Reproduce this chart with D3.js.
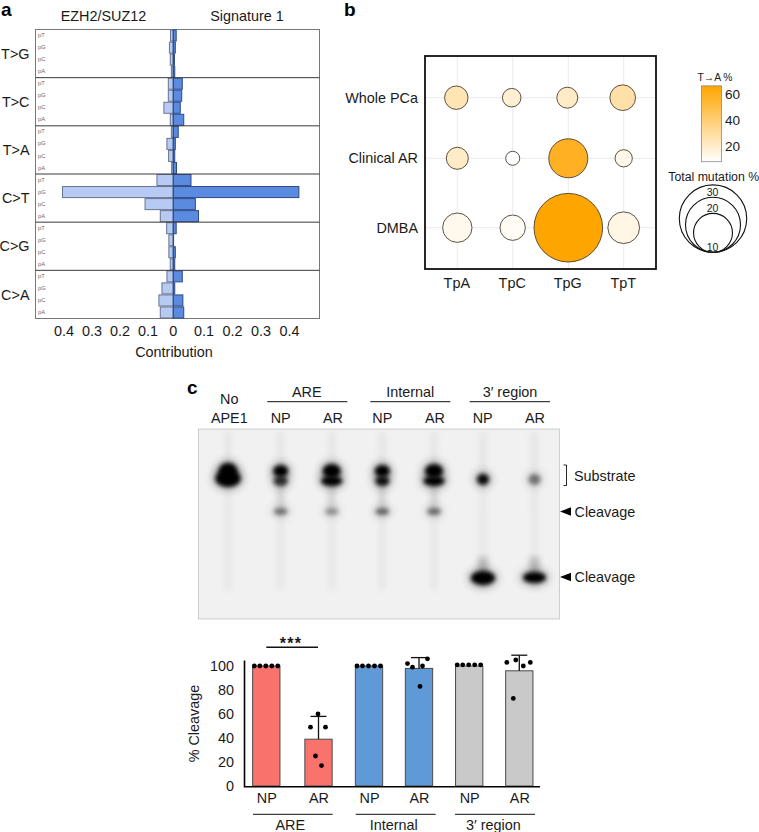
<!DOCTYPE html>
<html><head><meta charset="utf-8">
<script src="https://cdn.jsdelivr.net/npm/d3@7"></script>
<style>html,body{margin:0;padding:0;background:#fff}svg{display:block}text{font-family:"Liberation Sans",Arial,sans-serif;fill:#1a1a1a}</style>
</head><body><svg id="c" width="759" height="832"></svg>
<script>
// ---------- Panel a data
const mutationTypes = ["T>G","T>C","T>A","C>T","C>G","C>A"];
const contexts = ["pT","pG","pC","pA"];
const ezh2Values = [0.010,0.014,0.011,0.007, 0.018,0.018,0.034,0.011, 0.007,0.023,0.017,0.006, 0.059,0.400,0.102,0.047, 0.024,0.016,0.016,0.011, 0.023,0.041,0.052,0.047];
const sig1Values = [0.010,0.007,0.004,0.005, 0.031,0.029,0.024,0.036, 0.017,0.007,0.005,0.011, 0.061,0.433,0.076,0.087, 0.010,0.001,0.007,0.005, 0.031,0.005,0.033,0.036];
const contributionTicks = [0.1,0.2,0.3,0.4];
// ---------- Panel b data
const motifs = ["TpA","TpC","TpG","TpT"];
const cohorts = ["Whole PCa","Clinical AR","DMBA"];
const totalMutation = [3.5,2.2,2.8,4.2, 3.1,1.25,9.7,1.9, 5.5,4.1,30,6.4];
const tToA = [25,18,21,28, 21,8,58,13, 12,10,66,14];
const colorTicks = [20,40,60];
const sizeLegend = [30,20,10];
// ---------- Panel c gel data
const gelLanes = ["No APE1","ARE NP","ARE AR","Internal NP","Internal AR","3′ NP","3′ AR"];
const gelUpper  = [1,1,1,1,1,0,0];
const gelLower  = [1,0.75,1,0.9,1,0.95,0.45];
const gelMid    = [0,0.45,0.32,0.5,0.48,0,0];
const gelBottom = [0,0,0,0,0,1,1];
// ---------- Panel c bars data
const barKeys = ["ARE NP","ARE AR","Internal NP","Internal AR","3′ NP","3′ AR"];
const barLabels = ["NP","AR","NP","AR","NP","AR"];
const barMeans = [100,39,100,98,100,96];
const barErrTop = [null,58,null,107,null,109];
const barDots = [
 [100,100,100,100,100],[60,49,49,25,17],[100,100,100,100,100],[102,99,100,106,83],[101,101,101,101,101],[103,105,100,103,73]];
const dotJitter = [
 [-12,-6.5,-0.5,5.5,11.5],[-0.5,-8,7,-3,3],[-12,-6.5,-0.5,5.5,11.5],[-11.5,-6.5,3.5,8.5,1],[-12,-6.5,-0.5,5.5,11.5],[-12.5,-3.5,4,11,-6]];
const barColors = ["#f9736c","#f9736c","#5f9ad6","#5f9ad6","#c9c9c9","#c9c9c9"];
const yTicks = [0,20,40,60,80,100];

const svg = d3.select("#c");
const FS = 14.4;
const txt = (g,x,y,s,anchor="middle",size=FS,extra={})=>{
  const t=g.append("text").attr("x",x).attr("y",y).attr("dy","0.36em").attr("text-anchor",anchor).attr("font-size",size).text(s);
  Object.entries(extra).forEach(([k,v])=>t.attr(k,v)); return t;};

// panel letters
[["a",1,9],["b",344,9],["c",187,387]].forEach(([s,x,y])=>txt(svg,x,y,s,"start",19,{"font-weight":"bold"}).style("fill","#000"));

// ---------- Panel a
(function(){
  const g=svg.append("g");
  const cx=173.3, L=35.5, R=319.5;
  const leftW=d3.scaleLinear([0,1],[0,277]), rightW=d3.scaleLinear([0,1],[0,290]);
  const rowY=d3.scaleBand(mutationTypes,[29.5,318.5]);
  const subY=d3.scaleBand(contexts,[0,rowY.bandwidth()]);
  txt(g,103.5,15.5,"EZH2/SUZ12"); txt(g,247,15.5,"Signature 1");
  g.append("rect").attr("x",L).attr("y",29.5).attr("width",R-L).attr("height",289).attr("fill","#fff").attr("stroke","#777").attr("stroke-width",1);
  mutationTypes.forEach((m,i)=>{
    const y0=rowY(m);
    txt(g,29.5,y0+rowY.bandwidth()/2+(m==="T>G"?0.5:0),m,"end");
    contexts.forEach((c,j)=>{
      txt(g,38,y0+subY(c)+5.5,c,"start",5.8).style("fill","#666");
      const idx=i*4+j;
      g.append("rect").attr("x",cx-leftW(ezh2Values[idx])).attr("y",y0+subY(c)+0.5).attr("width",leftW(ezh2Values[idx])).attr("height",subY.bandwidth()-1)
        .attr("fill","#b6caf3").attr("stroke","#68748f").attr("stroke-width",1);
      g.append("rect").attr("x",cx).attr("y",y0+subY(c)+0.5).attr("width",rightW(sig1Values[idx])).attr("height",subY.bandwidth()-1)
        .attr("fill","#5a8be0").attr("stroke","#2d4a86").attr("stroke-width",1);
    });
  });
  g.append("line").attr("x1",cx).attr("x2",cx).attr("y1",29.5).attr("y2",318.5).attr("stroke","#3c4a66").attr("stroke-width",0.8);
  mutationTypes.slice(1).forEach(m=>g.append("line").attr("x1",L).attr("x2",R).attr("y1",rowY(m)).attr("y2",rowY(m)).attr("stroke","#3a3a3a").attr("stroke-width",1));
  const tl=d3.scaleLinear([0.1,0.4],[148,64]), tr=d3.scaleLinear([0.1,0.4],[204,289.5]);
  contributionTicks.forEach(t=>{ txt(g,tl(t),331,t.toFixed(1)); txt(g,tr(t),331,t.toFixed(1)); });
  txt(g,cx,331,"0");
  txt(g,174,351.5,"Contribution");
})();

// ---------- Panel b
(function(){
  const g=svg.append("g");
  const x=d3.scaleOrdinal(motifs,[457.3,512.7,568.3,623.7]);
  const y=d3.scaleOrdinal(cohorts,[97.7,158.3,227.7]);
  const r=d3.scaleSqrt([0,30],[0,34.3]);
  const color=d3.scaleLinear([8,66],["#ffffff","#ffa500"]).clamp(true);
  motifs.forEach(m=>g.append("line").attr("x1",x(m)).attr("x2",x(m)).attr("y1",57).attr("y2",268).attr("stroke","#ebebeb"));
  cohorts.forEach(c=>g.append("line").attr("x1",426).attr("x2",655).attr("y1",y(c)).attr("y2",y(c)).attr("stroke","#ebebeb"));
  cohorts.forEach((c,i)=>{
    txt(g,418,y(c),c,"end");
    motifs.forEach((m,j)=>{
      const k=i*4+j;
      g.append("circle").attr("cx",x(m)-(i===0?1:0)).attr("cy",y(c)).attr("r",r(totalMutation[k])).attr("fill",color(tToA[k])).attr("stroke","#4a4030").attr("stroke-width",0.9);
    });
  });
  g.append("rect").attr("x",425).attr("y",56).attr("width",231).attr("height",213).attr("fill","none").attr("stroke","#111").attr("stroke-width",1.8);
  motifs.forEach(m=>txt(g,x(m)-0.5,282.5,m));
  // colour bar
  const cbY=d3.scaleLinear([20,60],[146,93.7]);
  const grad=svg.append("defs").append("linearGradient").attr("id","cb").attr("x1",0).attr("x2",0).attr("y1",1).attr("y2",0);
  grad.append("stop").attr("offset",0).attr("stop-color",color(8));
  grad.append("stop").attr("offset",1).attr("stop-color",color(66));
  g.append("rect").attr("x",701.5).attr("y",cbY(66)).attr("width",20).attr("height",cbY(8)-cbY(66)).attr("fill","url(#cb)").attr("stroke","#8a8a8a").attr("stroke-width",0.8);
  colorTicks.forEach(t=>txt(g,725,cbY(t),t,"start",13.6));
  txt(g,715,77,"T→A %","middle",11.2,{"font-family":"DejaVu Sans, Liberation Sans"}).attr("textLength",35).attr("lengthAdjust","spacingAndGlyphs");
  txt(g,713.7,177,"Total mutation %","middle",12.3);
  const rl=d3.scaleSqrt([0,30],[0,33.7]);
  sizeLegend.forEach(v=>{
    g.append("circle").attr("cx",713).attr("cy",252.3-rl(v)).attr("r",rl(v)).attr("fill","none").attr("stroke","#111").attr("stroke-width",1.1);
  });
  txt(g,712.5,192,"30","middle",10.5); txt(g,712.5,208,"20","middle",10.5); txt(g,712.5,247.5,"10","middle",10.5);
})();

// ---------- Panel c gel
(function(){
  const g=svg.append("g");
  const defs=svg.append("defs");
  defs.append("filter").attr("id","bl").attr("x","-100%").attr("y","-100%").attr("width","300%").attr("height","300%").append("feGaussianBlur").attr("stdDeviation",2.2);
  defs.append("filter").attr("id","halo").attr("x","-150%").attr("y","-150%").attr("width","400%").attr("height","400%").append("feGaussianBlur").attr("stdDeviation",4);
  defs.append("filter").attr("id","bl2").attr("x","-300%").attr("y","-20%").attr("width","700%").attr("height","140%").append("feGaussianBlur").attr("stdDeviation",3);
  defs.append("clipPath").attr("id","gelclip").append("rect").attr("x",198.5).attr("y",429).attr("width",361).attr("height",190);
  g.append("rect").attr("x",198.5).attr("y",429).attr("width",361).attr("height",190).attr("fill","#f1f1f1").attr("stroke","#c4c4c4").attr("stroke-width",0.8);
  const laneX=d3.scaleOrdinal(gelLanes,[228,280.7,331.7,382.3,434,483,534.5]);
  const inner=g.append("g").attr("clip-path","url(#gelclip)");
  const band=(vals,yc,rxF,ryF)=>vals.forEach((v,i)=>{ if(!v) return;
    const cx=laneX(gelLanes[i]), cy=yc(i), rx=rxF(v,i), ry=ryF(v,i);
    inner.append("ellipse").attr("cx",cx).attr("cy",cy).attr("rx",rx+3).attr("ry",ry+3).attr("fill","#000").attr("opacity",0.3*v).attr("filter","url(#halo)");
    inner.append("ellipse").attr("cx",cx).attr("cy",cy).attr("rx",rx).attr("ry",ry).attr("fill","#000").attr("opacity",v).attr("filter","url(#bl)");
  });
  // faint lane streaks
  gelLanes.forEach(l=>{
    inner.append("rect").attr("x",laneX(l)-2.5).attr("y",432).attr("width",5).attr("height",40).attr("fill","#ccc").attr("opacity",0.45).attr("filter","url(#bl2)");
    inner.append("rect").attr("x",laneX(l)-2.5).attr("y",480).attr("width",5).attr("height",110).attr("fill","#d8d8d8").attr("opacity",0.55).attr("filter","url(#bl2)");
  });
  gelLanes.slice(1,5).forEach(l=>inner.append("rect").attr("x",laneX(l)-3).attr("y",484).attr("width",6).attr("height",24).attr("fill","#aaa").attr("opacity",0.4).attr("filter","url(#bl2)"));
  gelLanes.slice(5).forEach(l=>inner.append("rect").attr("x",laneX(l)-5).attr("y",557).attr("width",10).attr("height",18).attr("fill","#888").attr("opacity",0.5).attr("filter","url(#bl2)"));
  band(gelUpper,i=>471,(v,i)=>i===0?9:(i===2||i===4?9:7.5),(v,i)=>i===0?8:(i===2||i===4?7:6));
  band(gelLower,i=>i===0?478.5:(i>4?479.3:481),(v,i)=>i===0?12.5:(i>4?6:(i===2||i===4?10.5:7)),(v,i)=>i===0?8.5:(i>4?5.5:5));
  band(gelMid,()=>511.5,()=>7,()=>3.5);
  band(gelBottom,i=>i===5?578:577.5,(v,i)=>i===5?12:11.5,(v,i)=>i===5?7:5.5);

  txt(g,229.3,399,"No"); txt(g,229.3,417.7,"APE1");
  [["ARE",306.7,267.3,347.3],["Internal",410.3,370.3,450.3],["3′ region",510,469.7,550]].forEach(([s,x,a,b])=>{
    txt(g,x,391.5,s); g.append("line").attr("x1",a).attr("x2",b).attr("y1",401.7).attr("y2",401.7).attr("stroke","#111").attr("stroke-width",1);});
  [280.7,333,382.3,435,482.7,535].forEach((x,i)=>txt(g,x,417.7,barLabels[i]));
  g.append("path").attr("d","M563.5 465H566.5V485.5H563.5").attr("fill","none").attr("stroke","#111").attr("stroke-width",0.9);
  txt(g,574,475.7,"Substrate","start");
  [511.5,577].forEach(y=>{
    g.append("path").attr("d",`M560 ${y}L571 ${y-4.2}V${y+4.2}Z`).attr("fill","#000");
    txt(g,574.5,y,"Cleavage","start");
  });
})();

// ---------- Panel c bars
(function(){
  const g=svg.append("g");
  const x=d3.scaleOrdinal(barKeys,[266.3,318.5,369,419,469.2,519.3]);
  const y=d3.scaleLinear([0,100],[786,666]);
  const bw=27.3;
  barKeys.forEach((k,i)=>{
    g.append("rect").attr("x",x(k)-bw/2).attr("y",y(barMeans[i])).attr("width",bw).attr("height",y(0)-y(barMeans[i]))
      .attr("fill",barColors[i]).attr("stroke","#4a4a4a").attr("stroke-width",1);
    if(barErrTop[i]!==null){
      g.append("line").attr("x1",x(k)).attr("x2",x(k)).attr("y1",y(barMeans[i])).attr("y2",y(barErrTop[i])).attr("stroke","#111").attr("stroke-width",1.3);
      g.append("line").attr("x1",x(k)-8).attr("x2",x(k)+8).attr("y1",y(barErrTop[i])).attr("y2",y(barErrTop[i])).attr("stroke","#111").attr("stroke-width",1.3);
    }
    barDots[i].forEach((d,j)=>g.append("circle").attr("cx",x(k)+dotJitter[i][j]).attr("cy",y(d)).attr("r",2.4).attr("fill","#000"));
    txt(g,x(k)+0.5,797.7,barLabels[i]);
  });
  const axis=g.append("g").attr("transform","translate(244,0)").call(d3.axisLeft(y).tickValues(yTicks).tickSize(0).tickPadding(10));
  axis.selectAll("text").attr("font-size",FS).attr("font-family",'"Liberation Sans"');
  axis.select(".domain").remove();
  g.append("path").attr("d","M244.5 660.5V786.7H540").attr("fill","none").attr("stroke","#000").attr("stroke-width",1.6);
  txt(g,194,723.5,"% Cleavage","middle",FS,{transform:"rotate(-90 194 723.5)"});
  [["ARE",290.3,253,332.7],["Internal",393.7,355.7,435.7],["3′ region",493.3,455,535]].forEach(([s,xc,a,b])=>{
    g.append("line").attr("x1",a).attr("x2",b).attr("y1",814.3).attr("y2",814.3).attr("stroke","#111").attr("stroke-width",1);
    txt(g,xc,824.5,s);
  });
  g.append("line").attr("x1",266.3).attr("x2",318).attr("y1",647.3).attr("y2",647.3).attr("stroke","#111").attr("stroke-width",1.6);
  txt(g,291,643.5,"***","middle",16,{"font-weight":"bold","letter-spacing":"1.2px"});
})();
</script></body></html>
